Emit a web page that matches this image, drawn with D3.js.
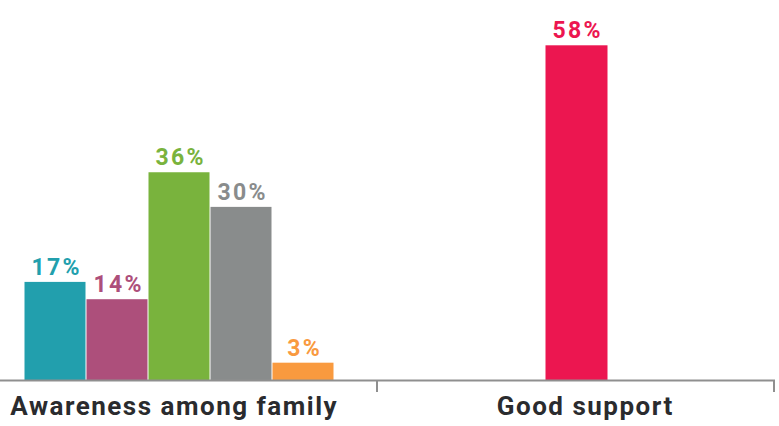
<!DOCTYPE html>
<html>
<head>
<meta charset="utf-8">
<script src="https://cdn.jsdelivr.net/npm/d3@7"></script>
<style>
  html, body { margin: 0; padding: 0; background: #fff; }
  svg { display: block; }
  text { font-family: Roboto, "Liberation Sans", sans-serif; font-weight: 700; }
</style>
</head>
<body>
<svg id="chart" width="779" height="426"></svg>
<script>
// ---- data ----
const categories = ["Awareness among family", "Good support"];
const awarenessValues = [17, 14, 36, 30, 3];
const awarenessColors = ["#229fad", "#ad4f7b", "#79b33d", "#898c8c", "#f99a3f"];
const supportValues = [58];
const supportColors = ["#ec1650"];
const valueLabels = v => v + "%";

const groups = [
  { name: categories[0], values: awarenessValues, colors: awarenessColors },
  { name: categories[1], values: supportValues, colors: supportColors }
];

// ---- layout ----
const baseline = 380;
const svg = d3.select("#chart");

const x0 = d3.scaleBand().domain(categories).range([-19, 775]).padding(0);
const y = d3.scaleLinear().domain([0, 58]).range([baseline, 45.3]);
const barW = 62;
const valLS = 2.2, catLS = 1.5;

groups.forEach(g => {
  const n = g.values.length;
  const xi = d3.scaleBand()
    .domain(d3.range(n))
    .range([-n * barW / 2, n * barW / 2])
    .padding(0);
  const cx = x0(g.name) + x0.bandwidth() / 2;
  const gg = svg.append("g").attr("transform", `translate(${cx},0)`);
  gg.selectAll("rect").data(g.values).join("rect")
    .attr("x", (d, i) => xi(i))
    .attr("width", xi.bandwidth() - (n > 1 ? 1 : 0))
    .attr("y", d => y(d))
    .attr("height", d => baseline - y(d))
    .attr("fill", (d, i) => g.colors[i]);
  gg.selectAll("text.val").data(g.values).join("text")
    .attr("class", "val")
    .attr("x", (d, i) => xi(i) + xi.bandwidth() / 2 + valLS / 2)
    .attr("y", d => y(d) - 7)
    .attr("text-anchor", "middle")
    .attr("font-size", 23)
    .attr("letter-spacing", valLS)
    .attr("fill", (d, i) => g.colors[i])
    .text(valueLabels);
});

// axis
const axisG = svg.append("g");
axisG.append("line")
  .attr("x1", 0).attr("x2", x0.range()[1])
  .attr("y1", baseline + 0.5).attr("y2", baseline + 0.5)
  .attr("stroke", "#8f8f8f").attr("stroke-width", 2);
const tickXs = categories.map(c => x0(c) + x0.bandwidth());
axisG.selectAll("line.tick").data(tickXs).join("line")
  .attr("class", "tick")
  .attr("x1", d => d - 1).attr("x2", d => d - 1)
  .attr("y1", baseline).attr("y2", baseline + 12)
  .attr("stroke", "#8f8f8f").attr("stroke-width", 2);

axisG.selectAll("text.cat").data(categories).join("text")
  .attr("class", "cat")
  .attr("x", (d, i) => x0(d) + x0.bandwidth() / 2 + (i === 0 ? -6 : 8) + catLS / 2)
  .attr("y", 415)
  .attr("text-anchor", "middle")
  .attr("font-size", 26)
  .attr("letter-spacing", catLS)
  .attr("fill", "#2a2b2e")
  .text(d => d);
</script>
</body>
</html>
